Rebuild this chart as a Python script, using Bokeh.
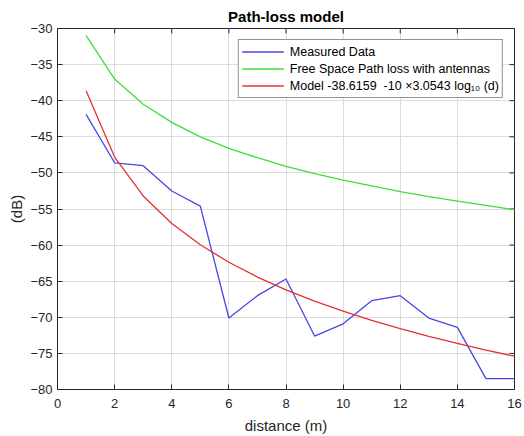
import math
from bokeh.plotting import figure
from bokeh.models import FixedTicker, Range1d, Legend, LegendItem
from bokeh.embed import file_html
from bokeh.resources import INLINE

distance = [1, 2, 3, 4, 5, 6, 7, 8, 9, 10, 11, 12, 13, 14, 15, 16]
measured = [-41.9, -48.6, -49.0, -52.5, -54.6, -70.1, -67.0, -64.7, -72.6, -70.9,
            -67.7, -67.0, -70.1, -71.4, -78.5, -78.5]
free_space = [-31.0, -37.0, -40.5, -43.0, -45.0, -46.6, -47.9, -49.1, -50.1, -51.0,
              -51.8, -52.6, -53.3, -53.9, -54.5, -55.1]
model = [-38.62, -47.81, -53.19, -57.00, -59.96, -62.38, -64.43, -66.20, -67.76,
         -69.16, -70.42, -71.58, -72.64, -73.62, -74.54, -75.39]
x_ticks = [0, 2, 4, 6, 8, 10, 12, 14, 16]
y_ticks = [-80, -75, -70, -65, -60, -55, -50, -45, -40, -35, -30]
x_min, x_max = 0, 16
y_min, y_max = -80, -30
labels = ["Measured Data", "Free Space Path loss with antennas",
          "Model -38.6159  -10 \u00d73.0543 log\u2081\u2080 (d)"]

FONT = "Liberation Sans"
DARK = "#262626"

p = figure(width=524, height=436, output_backend="svg", toolbar_location=None,
           x_range=Range1d(x_min, x_max), y_range=Range1d(y_min, y_max),
           min_border_left=57, min_border_right=10, min_border_top=28, min_border_bottom=44,
           title="Path-loss model", x_axis_label="distance (m)", y_axis_label="(dB)")
p.title.align = "center"
p.title.text_font = FONT
p.title.text_font_size = "15px"
p.title.text_font_style = "bold"
p.title.text_color = "black"
p.title.standoff = 7

p.outline_line_color = DARK
p.outline_line_width = 1

for ax in (p.xaxis[0], p.yaxis[0]):
    ax.axis_line_color = DARK
    ax.major_tick_line_color = DARK
    ax.major_tick_in = 5
    ax.major_tick_out = 0
    ax.minor_tick_in = 0
    ax.minor_tick_out = 0
    ax.major_label_text_font = FONT
    ax.major_label_text_font_size = "13px"
    ax.major_label_text_color = DARK
    ax.axis_label_text_font = FONT
    ax.axis_label_text_font_size = "15px"
    ax.axis_label_text_font_style = "normal"
    ax.axis_label_text_color = DARK
p.xaxis[0].major_label_standoff = 9
p.xaxis[0].axis_label_standoff = 6
p.yaxis[0].major_label_standoff = 5
p.yaxis[0].axis_label_standoff = 2
p.xaxis[0].ticker = FixedTicker(ticks=x_ticks)
p.yaxis[0].ticker = FixedTicker(ticks=y_ticks)

p.xgrid.ticker = FixedTicker(ticks=x_ticks)
p.ygrid.ticker = FixedTicker(ticks=y_ticks)
p.grid.grid_line_color = "#dcdcdc"
p.grid.grid_line_width = 1

# box ticks on top and right edges (MATLAB "box on")
p.ray(x=x_ticks, y=[y_max] * len(x_ticks), length=5, length_units="screen",
      angle=-math.pi / 2, line_color=DARK, line_width=1)
p.ray(x=[x_max] * len(y_ticks), y=y_ticks, length=5, length_units="screen",
      angle=math.pi, line_color=DARK, line_width=1)

r1 = p.line(distance, measured, line_color="#4646e6", line_width=1.3)
r2 = p.line(distance, free_space, line_color="#3ddd3d", line_width=1.3)
r3 = p.line(distance, model, line_color="#e63030", line_width=1.3)

legend = Legend(items=[LegendItem(label=labels[0], renderers=[r1]),
                       LegendItem(label=labels[1], renderers=[r2]),
                       LegendItem(label=labels[2], renderers=[r3])],
                location="top_right")
legend.margin = 11
legend.padding = 3
legend.spacing = 0
legend.label_height = 17
legend.glyph_height = 17
legend.glyph_width = 42
legend.label_standoff = 6
legend.label_text_font = FONT
legend.label_text_font_size = "12.5px"
legend.label_text_color = "black"
legend.border_line_color = DARK
legend.border_line_width = 1
legend.background_fill_color = "white"
legend.background_fill_alpha = 1
p.add_layout(legend, "center")

open("out.html", "w").write(file_html(p, INLINE))
